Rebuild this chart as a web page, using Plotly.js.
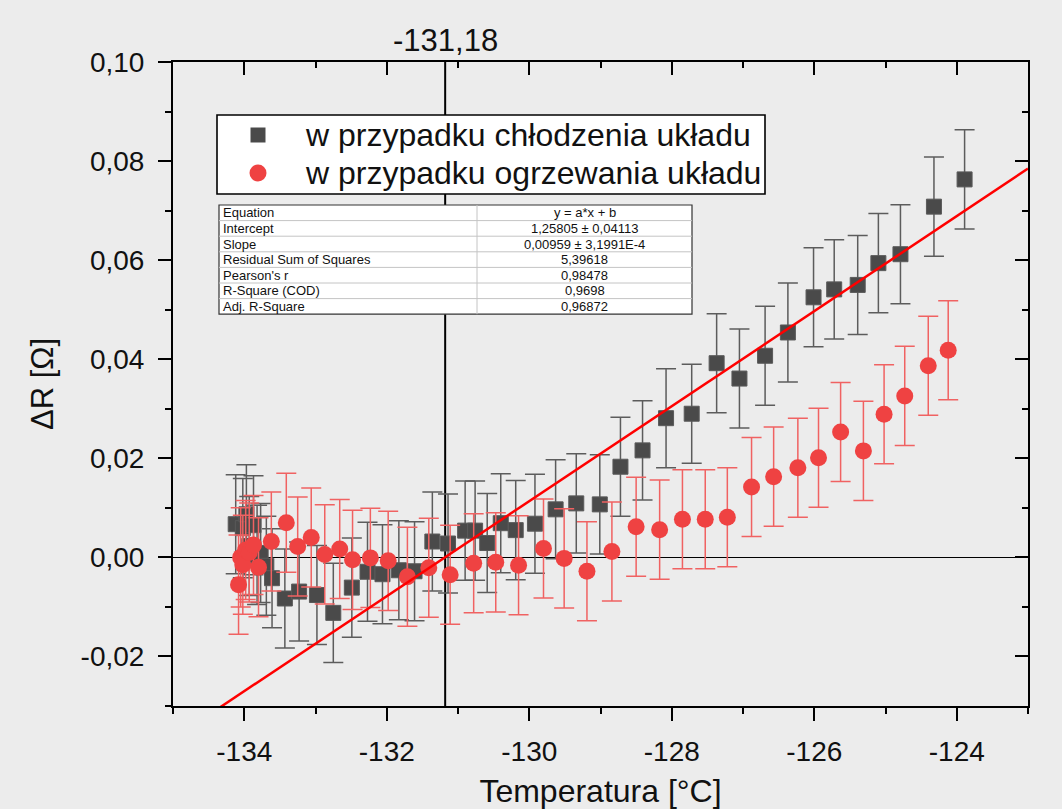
<!DOCTYPE html>
<html><head><meta charset="utf-8">
<script src="https://cdn.plot.ly/plotly-3.0.1.min.js"></script>
<style>html,body{margin:0;padding:0;background:#ececec;} #chart{width:1062px;height:809px;}</style>
</head><body><div id="chart"></div>
<script>
// ---- data ----
const coolT = [-134.12,-134.02,-133.97,-133.93,-133.87,-133.82,-133.77,-133.69,-133.61,-133.43,-133.23,-132.98,-132.75,-132.49,-132.27,-132.06,-131.83,-131.61,-131.36,-131.14,-130.90,-130.76,-130.59,-130.40,-130.19,-129.92,-129.63,-129.34,-129.01,-128.72,-128.41,-128.08,-127.72,-127.37,-127.05,-126.69,-126.37,-126.01,-125.72,-125.39,-125.10,-124.79,-124.32,-123.89];
const coolR = [0.0067,0.0059,0.0087,0.0023,0.0065,0.0005,0.0009,-0.0017,-0.0042,-0.0083,-0.0069,-0.0076,-0.0112,-0.0061,-0.0029,-0.0034,-0.0026,-0.0028,0.0032,0.0028,0.0054,0.0054,0.0029,0.0069,0.0055,0.0068,0.0097,0.0109,0.0107,0.0183,0.0216,0.0281,0.0290,0.0392,0.0361,0.0407,0.0454,0.0525,0.0541,0.0550,0.0594,0.0612,0.0708,0.0763];
const heatT = [-134.08,-134.05,-134.02,-133.98,-133.93,-133.87,-133.80,-133.62,-133.41,-133.25,-133.06,-132.87,-132.66,-132.48,-132.23,-131.98,-131.71,-131.41,-131.11,-130.78,-130.47,-130.15,-129.80,-129.51,-129.19,-128.84,-128.50,-128.17,-127.85,-127.53,-127.22,-126.88,-126.57,-126.23,-125.94,-125.63,-125.31,-125.02,-124.73,-124.40,-124.12];
const heatR = [-0.0055,0.0000,-0.0015,0.0015,0.0010,0.0025,-0.0020,0.0032,0.0070,0.0022,0.0040,0.0006,0.0017,-0.0005,-0.0001,-0.0007,-0.0039,-0.0021,-0.0035,-0.0012,-0.0010,-0.0016,0.0018,-0.0002,-0.0028,0.0012,0.0062,0.0056,0.0077,0.0077,0.0081,0.0142,0.0163,0.0181,0.0201,0.0253,0.0215,0.0289,0.0326,0.0387,0.0418];
const errR = 0.01;
const fitIntercept = 1.25805;
const fitSlope = 0.00959;
const markerT = -131.18;
const markerLabel = '-131,18';
const seriesNames = ['w przypadku chłodzenia układu', 'w przypadku ogrzewania układu'];
const seriesColors = ['#4a4a4a', '#ef4242'];
const xTickVals = [-134, -132, -130, -128, -126, -124];
const xTickLabels = ['-134', '-132', '-130', '-128', '-126', '-124'];
const yTickVals = [-0.02, 0, 0.02, 0.04, 0.06, 0.08, 0.10];
const yTickLabels = ['-0,02', '0,00', '0,02', '0,04', '0,06', '0,08', '0,10'];
const statLabels = ['Equation', 'Intercept', 'Slope', 'Residual Sum of Squares', "Pearson's r", 'R-Square (COD)', 'Adj. R-Square'];
const statValues = ['y = a*x + b', '1,25805 ± 0,04113', '0,00959 ± 3,1991E-4', '5,39618', '0,98478', '0,9698', '0,96872'];
const xRange = [-135, -123];
const yRange = [-0.03, 0.10];

// ---- layout geometry ----
const W = 1062, H = 809;
const M = {l: 173, r: 34, t: 62, b: 103};
const pw = W - M.l - M.r, ph = H - M.t - M.b;
const px = v => (v - M.l) / pw;
const py = v => (H - M.b - v) / ph;
const FONT = 'Liberation Sans, Arial, Helvetica, sans-serif';

const fitY = xRange.map(x => fitSlope * x + fitIntercept);

const traces = [
  {x: coolT, y: coolR, name: seriesNames[0], type: 'scatter', mode: 'markers', showlegend: false,
   marker: {symbol: 'square', size: 15, color: seriesColors[0], line: {color: '#5a5a5a', width: 1}},
   error_y: {type: 'constant', value: errR, color: '#5c5c5c', thickness: 1.5, width: 10}},
  {x: heatT, y: heatR, name: seriesNames[1], type: 'scatter', mode: 'markers', showlegend: false,
   marker: {symbol: 'circle', size: 17, color: seriesColors[1]},
   error_y: {type: 'constant', value: errR, color: '#f06262', thickness: 1.5, width: 10}},
  {x: xRange, y: fitY, type: 'scatter', mode: 'lines', showlegend: false, hoverinfo: 'skip',
   line: {color: '#ff0000', width: 2.5}},
  // empty trace so that the mirrored top/right axes get drawn
  {x: [], y: [], xaxis: 'x2', yaxis: 'y2', type: 'scatter', mode: 'markers', showlegend: false, hoverinfo: 'skip'}
];

const shapes = [
  {type: 'line', xref: 'x', yref: 'paper', x0: markerT, x1: markerT, y0: 0, y1: 1,
   line: {color: 'black', width: 2}, layer: 'below'}
];
const annotations = [
  {x: markerT, xref: 'x', y: 1, yref: 'paper', yanchor: 'bottom', text: markerLabel, showarrow: false,
   font: {family: FONT, size: 31, color: '#111'}, yshift: 2}
];

// ---- legend box (drawn as shapes + text) ----
const lg = {left: 217, right: 765, top: 115, bottom: 194, symX: 258, textX: 303, rows: [135, 173], half: 7.5};
shapes.push({type: 'rect', xref: 'paper', yref: 'paper', x0: px(lg.left), x1: px(lg.right), y0: py(lg.bottom), y1: py(lg.top),
  fillcolor: 'white', line: {color: 'black', width: 1.6}, layer: 'above'});
seriesNames.forEach((name, i) => {
  const cy = lg.rows[i];
  const h = i === 0 ? lg.half : lg.half + 1;
  shapes.push({type: i === 0 ? 'rect' : 'circle', xref: 'paper', yref: 'paper',
    x0: px(lg.symX - h), x1: px(lg.symX + h), y0: py(cy + h), y1: py(cy - h),
    fillcolor: seriesColors[i], line: {width: 0}, layer: 'above'});
  annotations.push({x: px(lg.textX), xref: 'paper', y: py(cy), yref: 'paper', xanchor: 'left', yanchor: 'middle',
    text: name, showarrow: false, font: {family: FONT, size: 32, color: '#111'}});
});

// ---- fit table (shapes + annotations) ----
const tbl = {left: 219, right: 692, top: 205, rowH: 15.6, split: 477};
const nRows = statLabels.length;
shapes.push({type: 'rect', xref: 'paper', yref: 'paper', x0: px(tbl.left), x1: px(tbl.right),
  y0: py(tbl.top + nRows * tbl.rowH), y1: py(tbl.top), fillcolor: 'white',
  line: {color: '#333', width: 1.2}, layer: 'above'});
for (let i = 1; i < nRows; i++) {
  shapes.push({type: 'line', xref: 'paper', yref: 'paper', x0: px(tbl.left), x1: px(tbl.right),
    y0: py(tbl.top + i * tbl.rowH), y1: py(tbl.top + i * tbl.rowH),
    line: {color: '#c4c4c4', width: 1}, layer: 'above'});
}
shapes.push({type: 'line', xref: 'paper', yref: 'paper', x0: px(tbl.split), x1: px(tbl.split),
  y0: py(tbl.top), y1: py(tbl.top + nRows * tbl.rowH), line: {color: '#c4c4c4', width: 1}, layer: 'above'});
statLabels.forEach((s, i) => {
  const yy = py(tbl.top + (i + 0.5) * tbl.rowH);
  annotations.push({x: px(tbl.left + 2), xref: 'paper', y: yy, yref: 'paper',
    xanchor: 'left', yanchor: 'middle', text: s, showarrow: false, font: {family: FONT, size: 13, color: '#111'}});
  annotations.push({x: px((tbl.split + tbl.right) / 2), xref: 'paper', y: yy, yref: 'paper',
    xanchor: 'center', yanchor: 'middle', text: statValues[i], showarrow: false, font: {family: FONT, size: 13, color: '#111'}});
});

const axCommon = {showgrid: false, showline: true, linecolor: 'black', linewidth: 2,
  tickcolor: 'black', tickwidth: 2, ticklen: 13};
const tickFont = {family: FONT, size: 28, color: '#111'};

const layout = {
  width: W, height: H, margin: M,
  paper_bgcolor: '#ececec', plot_bgcolor: '#ececec',
  font: {family: FONT, color: '#111'},
  showlegend: false,
  xaxis: Object.assign({}, axCommon, {range: xRange, tickmode: 'array', tickvals: xTickVals, ticktext: xTickLabels,
    ticks: 'outside', zeroline: false, tickfont: tickFont, ticklabelstandoff: 6,
    minor: {tickmode: 'linear', tick0: -135, dtick: 1, ticks: 'outside', ticklen: 6, tickwidth: 2, tickcolor: 'black', showgrid: false},
    title: {text: 'Temperatura [°C]', font: {family: FONT, size: 32, color: '#111'}, standoff: 22}}),
  yaxis: Object.assign({}, axCommon, {range: yRange, tickmode: 'array', tickvals: yTickVals, ticktext: yTickLabels,
    ticks: 'outside', zeroline: true, zerolinecolor: 'black', zerolinewidth: 1.5, tickfont: tickFont, ticklabelstandoff: 8,
    minor: {tickmode: 'linear', tick0: 0, dtick: 0.01, ticks: 'outside', ticklen: 6, tickwidth: 2, tickcolor: 'black', showgrid: false},
    title: {text: 'ΔR [Ω]', font: {family: FONT, size: 31, color: '#111'}, standoff: 18}}),
  xaxis2: Object.assign({}, axCommon, {overlaying: 'x', side: 'top', anchor: 'y2', range: xRange,
    tickmode: 'array', tickvals: xTickVals, ticks: 'inside', showticklabels: false, zeroline: false,
    minor: {tickmode: 'linear', tick0: -135, dtick: 1, ticks: 'inside', ticklen: 6, tickwidth: 2, tickcolor: 'black', showgrid: false}}),
  yaxis2: Object.assign({}, axCommon, {overlaying: 'y', side: 'right', anchor: 'x2', range: yRange,
    tickmode: 'array', tickvals: yTickVals, ticks: 'inside', showticklabels: false, zeroline: false,
    minor: {tickmode: 'linear', tick0: 0, dtick: 0.01, ticks: 'inside', ticklen: 6, tickwidth: 2, tickcolor: 'black', showgrid: false}}),
  shapes: shapes,
  annotations: annotations
};

Plotly.newPlot('chart', traces, layout, {displayModeBar: false, staticPlot: true});
</script>
</body></html>
